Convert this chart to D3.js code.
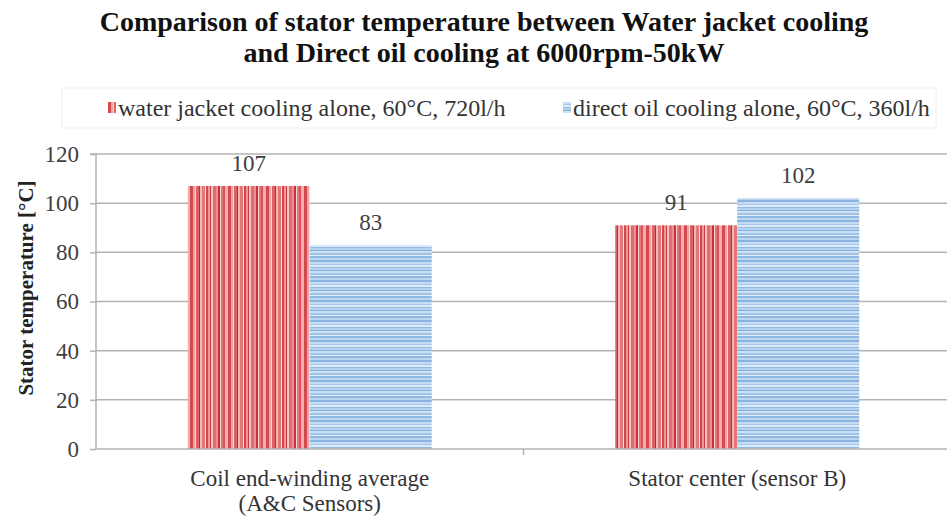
<!DOCTYPE html>
<html><head><meta charset="utf-8">
<script src="https://cdn.jsdelivr.net/npm/d3@7"></script>
<style>body{margin:0;background:#fff}svg{display:block}</style>
</head><body><svg id="c" width="947" height="517"></svg>
<script>
const categories = ["Coil end-winding average\n(A&C Sensors)", "Stator center (sensor B)"];
const seriesNames = ["water jacket cooling alone, 60°C, 720l/h", "direct oil cooling alone, 60°C, 360l/h"];
const waterJacket = [107, 91];
const directOil = [83, 102];
const yTicks = [0, 20, 40, 60, 80, 100, 120];
const titleLines = ["Comparison of stator temperature between Water jacket cooling", "and Direct oil cooling at 6000rpm-50kW"];
const yTitle = "Stator temperature [°C]";

const FONT = "'Liberation Serif', 'Times New Roman', serif";
const svg = d3.select("#c");
const defs = svg.append("defs");
// red vertical stripes
const redStripes = [["#d24a4e",3],["#eda4a5",2],["#f6d2d2",1],["#dc6266",3],["#c8282e",1],["#f2b8b9",2],["#e3787b",3],["#f8dede",1],["#d3464b",2],["#eb9a9c",2],["#cf3a3f",1],["#f4c4c5",2],["#df6d70",3],["#e89092",2],["#cc3035",2],["#f7d6d6",1],["#e1777a",2],["#d85458",2],["#efaeaf",3]];
let rw = d3.sum(redStripes, d => d[1]);
const rp = defs.append("pattern").attr("id","redPat").attr("patternUnits","userSpaceOnUse").attr("width",rw).attr("height",10);
let acc = 0;
redStripes.forEach(s => { rp.append("rect").attr("x",acc).attr("y",0).attr("width",s[1]).attr("height",10).attr("fill",s[0]); acc += s[1]; });
// blue horizontal stripes
const blueStripes = [["#8ab4e0",2],["#c6dcf2",2],["#a6c8ea",1],["#dde9f7",2],["#94bbe3",1],["#b8d3ef",2],["#80aedd",1],["#cfe1f4",2],["#9fc3e8",2],["#e4eef9",1],["#8fb8e2",2],["#bcd6f0",2]];
let bh = d3.sum(blueStripes, d => d[1]);
const bp = defs.append("pattern").attr("id","bluePat").attr("patternUnits","userSpaceOnUse").attr("width",10).attr("height",bh);
acc = 0;
blueStripes.forEach(s => { bp.append("rect").attr("x",0).attr("y",acc).attr("width",10).attr("height",s[1]).attr("fill",s[0]); acc += s[1]; });

const x0 = 96, x1 = 951, yTop = 154, yBot = 449;
const x = d3.scaleBand().domain(categories).range([x0, x1]).paddingInner(0).paddingOuter(0);
const y = d3.scaleLinear().domain([0, 120]).range([yBot, yTop]);

// title
svg.append("g").selectAll("text").data(titleLines).join("text")
  .attr("x", 484).attr("y", (d,i) => 31 + i*31).attr("text-anchor","middle")
  .style("font-family", FONT).style("font-size","28px").style("font-weight","bold").attr("fill","#111").text(d => d);

// legend
svg.append("rect").attr("x",62).attr("y",88).attr("width",874).attr("height",40).attr("fill","none").attr("stroke","#f0f0f0");
const legX = [108, 563];
const leg = svg.append("g").selectAll("g").data(seriesNames).join("g").attr("transform",(d,i)=>`translate(${legX[i]},0)`);
leg.append("rect").attr("x",0).attr("y",102).attr("width",8).attr("height",11).attr("fill",(d,i)=> i===0 ? "url(#redPat)" : "url(#bluePat)");
leg.append("text").attr("x",10).attr("y",116).style("font-family", FONT).style("font-size","24px").attr("fill","#333").text(d=>d);

// gridlines
svg.append("g").selectAll("line").data(yTicks.filter(t=>t>0)).join("line")
  .attr("x1", x0).attr("x2", 947).attr("y1", d=>y(d)).attr("y2", d=>y(d))
  .attr("stroke","#b3b3b3").attr("stroke-width",1.5);

// y axis
const yAxis = d3.axisLeft(y).tickValues(yTicks).tickSize(6).tickPadding(11);
const ya = svg.append("g").attr("transform",`translate(${x0},0)`).call(yAxis);
ya.select(".domain").attr("stroke","#b3b3b3").attr("stroke-width",1.5).attr("d",`M-6,${yTop}H0V${yBot}`);
ya.selectAll(".tick line").attr("stroke","#b3b3b3").attr("stroke-width",1.5);
ya.selectAll(".tick text").style("font-family", FONT).style("font-size","23px").attr("fill","#404040");

// bars
const data = categories.map((c,i)=>({cat:c, vals:[waterJacket[i], directOil[i]]}));
const barW = 122;
const g = svg.append("g");
data.forEach(d => {
  const cx = x(d.cat) + x.bandwidth()/2;
  d.vals.forEach((v,j) => {
    const bx = cx - barW + j*barW;
    g.append("rect").attr("x",bx).attr("y",y(v)).attr("width",barW).attr("height",yBot - y(v))
      .attr("fill", j===0 ? "url(#redPat)" : "url(#bluePat)");
    g.append("text").attr("x", bx + barW/2).attr("y", y(v) - 15).attr("text-anchor","middle")
      .style("font-family", FONT).style("font-size","23px").attr("fill","#404040").text(v);
  });
});

// x axis
const xa = svg.append("g").attr("transform",`translate(0,${yBot})`);
xa.append("line").attr("x1",x0).attr("x2",947).attr("y1",0).attr("y2",0).attr("stroke","#b3b3b3").attr("stroke-width",1.5);
xa.append("line").attr("x1",x(categories[1])).attr("x2",x(categories[1])).attr("y1",0).attr("y2",6).attr("stroke","#b3b3b3").attr("stroke-width",1.5);
categories.forEach(c => {
  const lines = c.split("\n");
  const cx = x(c)+x.bandwidth()/2;
  const t = xa.append("text").attr("x", cx).attr("y", 37).attr("text-anchor","middle")
    .style("font-family", FONT).style("font-size","23px").attr("fill","#333");
  lines.forEach((l,i)=> t.append("tspan").attr("x", cx).attr("dy", i===0?0:25).text(l));
});

// y title
svg.append("text").attr("transform","translate(33,288) rotate(-90)").attr("text-anchor","middle")
  .style("font-family", FONT).style("font-size","21px").style("font-weight","bold").attr("fill","#222").text(yTitle);
</script></body></html>
